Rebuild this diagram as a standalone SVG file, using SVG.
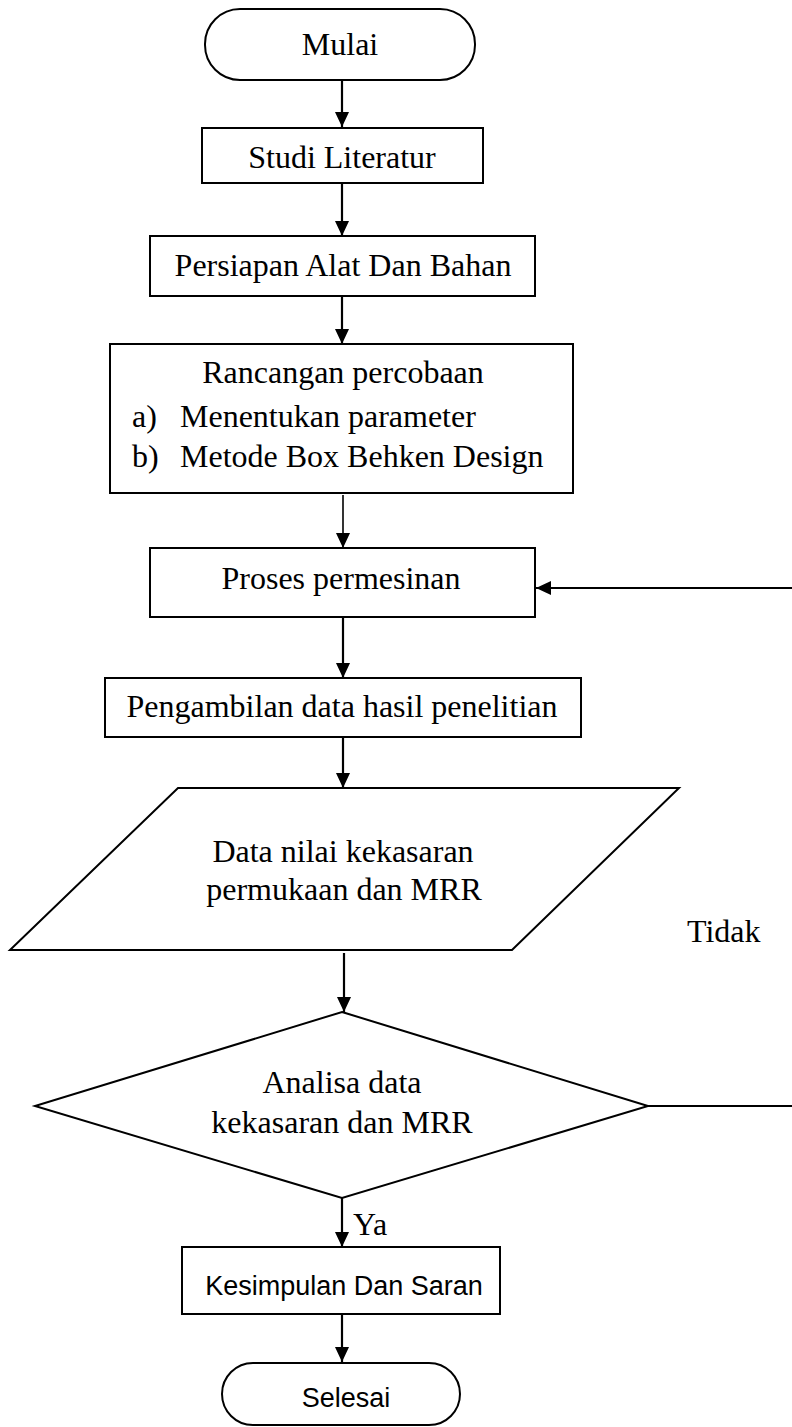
<svg xmlns="http://www.w3.org/2000/svg" width="792" height="1427" viewBox="0 0 792 1427">
<style>
.s{fill:#fff;stroke:#000;stroke-width:2}
.t{font-family:"Liberation Serif","Times New Roman",serif;font-size:32px;fill:#000}
.a{font-family:"Liberation Sans",Arial,sans-serif;font-size:27px;fill:#000}
.c{text-anchor:middle}
.l{fill:none;stroke:#000;stroke-width:2.2}
</style>
<defs>
<marker id="ah" markerWidth="15" markerHeight="14" viewBox="0 0 15 14" refX="15" refY="7" orient="auto" markerUnits="userSpaceOnUse">
<path d="M0,0 L15,7 L0,14 Z" fill="#000"/>
</marker>
</defs>
<g id="connectors">
<line class="l" x1="342" y1="80" x2="342" y2="127" marker-end="url(#ah)"/>
<line class="l" x1="342" y1="183" x2="342" y2="236" marker-end="url(#ah)"/>
<line class="l" x1="342" y1="296" x2="342" y2="344" marker-end="url(#ah)"/>
<line class="l" x1="343" y1="495" x2="343" y2="548" marker-end="url(#ah)" style="stroke-width:1.6"/>
<line class="l" x1="343" y1="617" x2="343" y2="678" marker-end="url(#ah)"/>
<line class="l" x1="343" y1="737" x2="343" y2="788" marker-end="url(#ah)"/>
<line class="l" x1="344" y1="953" x2="344" y2="1012" marker-end="url(#ah)"/>
<line class="l" x1="342" y1="1198" x2="342" y2="1247" marker-end="url(#ah)"/>
<line class="l" x1="342" y1="1314" x2="342" y2="1362" marker-end="url(#ah)"/>
<line class="l" x1="648" y1="1106" x2="792" y2="1106"/>
<line class="l" x1="792" y1="588" x2="536" y2="588" marker-end="url(#ah)"/>
<text class="t" x="687" y="942">Tidak</text>
<text class="t" x="353" y="1235">Ya</text>
</g>
<g id="mulai">
<rect class="s" x="205" y="9" width="270" height="71" rx="35" ry="35"/>
<text class="t c" x="340" y="55">Mulai</text>
</g>
<g id="studi">
<rect class="s" x="202" y="128" width="281" height="55"/>
<text class="t c" x="342" y="168">Studi Literatur</text>
</g>
<g id="persiapan">
<rect class="s" x="150" y="236" width="385" height="60"/>
<text class="t c" x="343" y="276">Persiapan Alat Dan Bahan</text>
</g>
<g id="rancangan">
<rect class="s" x="110" y="344" width="463" height="149"/>
<text class="t c" x="343" y="383">Rancangan percobaan</text>
<text class="t" x="132" y="427">a)</text>
<text class="t" x="180" y="427">Menentukan parameter</text>
<text class="t" x="132" y="467">b)</text>
<text class="t" x="180" y="467">Metode Box Behken Design</text>
</g>
<g id="proses">
<rect class="s" x="150" y="548" width="385" height="69"/>
<text class="t c" x="341" y="589">Proses permesinan</text>
</g>
<g id="pengambilan">
<rect class="s" x="105" y="678" width="476" height="59"/>
<text class="t c" x="342" y="717">Pengambilan data hasil penelitian</text>
</g>
<g id="data">
<polygon class="s" points="178,788 679,788 512,950 10,950"/>
<text class="t c" x="343" y="862">Data nilai kekasaran</text>
<text class="t c" x="344" y="900">permukaan dan MRR</text>
</g>
<g id="analisa">
<polygon class="s" points="342,1012 648,1106 342,1198 35,1106"/>
<text class="t c" x="342" y="1093">Analisa data</text>
<text class="t c" x="342" y="1133">kekasaran dan MRR</text>
</g>
<g id="kesimpulan">
<rect class="s" x="182" y="1247" width="318" height="67"/>
<text class="a c" x="344" y="1295">Kesimpulan Dan Saran</text>
</g>
<g id="selesai">
<rect class="s" x="222" y="1363" width="238" height="62" rx="31" ry="31"/>
<text class="a c" x="346" y="1407">Selesai</text>
</g>
</svg>
